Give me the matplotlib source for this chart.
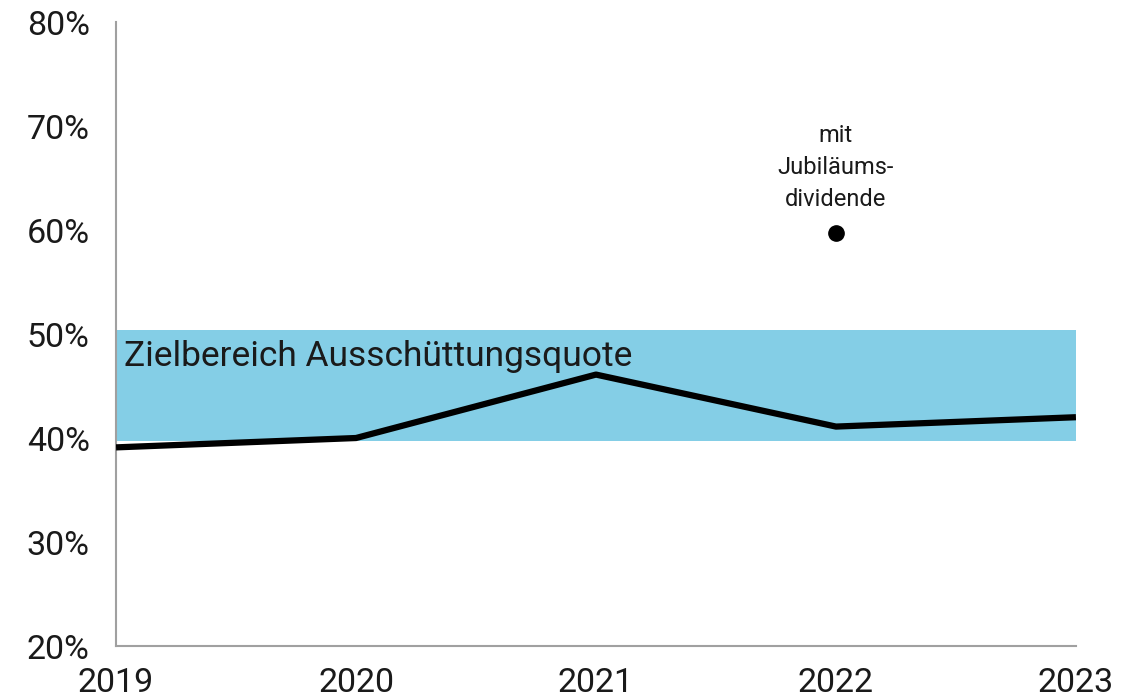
import matplotlib
matplotlib.use("Agg")
import matplotlib.pyplot as plt

plt.rcParams['font.family'] = ['Roboto', 'DejaVu Sans']

# data
years = [2019, 2020, 2021, 2022, 2023]
payout = [39.1, 40.0, 46.1, 41.1, 42.0]
band_low, band_high = 39.7, 50.4
band_label = "Zielbereich Ausschüttungsquote"
special_year, special_value = 2022, 59.7
special_label = "mit\nJubiläums-\ndividende"
yticks = [20, 30, 40, 50, 60, 70, 80]

text_col = "#1a1a1a"

fig = plt.figure(figsize=(11.4, 6.99), dpi=100)
ax = fig.add_axes([0.1018, 0.0758, 0.842, 0.8927])

ax.fill_between([years[0], years[-1]], band_low, band_high,
                color="#84cee6", lw=0, zorder=1)
ax.plot(years, payout, color="black", lw=4.5, solid_capstyle="butt", zorder=3)
ax.plot([special_year], [special_value], "o", color="black", ms=11, zorder=3)

ax.text(2019.035, 46.9, band_label, fontsize=25.5, color=text_col,
        ha="left", va="baseline", zorder=4)
ax.text(special_year, 61.8, special_label, fontsize=17, color=text_col,
        ha="center", va="bottom", linespacing=1.5)

ax.set_xlim(years[0], years[-1])
ax.set_ylim(20, 80)
ax.set_xticks(years)
ax.set_yticks(yticks)
ax.set_yticklabels([f"{v}%" for v in yticks])
ax.tick_params(axis="both", length=0, labelsize=24.5, colors=text_col)
ax.tick_params(axis="y", pad=19)
ax.tick_params(axis="x", pad=15)

for side in ["top", "right"]:
    ax.spines[side].set_visible(False)
for side in ["left", "bottom"]:
    ax.spines[side].set_color("#a0a0a0")
    ax.spines[side].set_linewidth(1.5)

fig.savefig("out.png", dpi=100)
